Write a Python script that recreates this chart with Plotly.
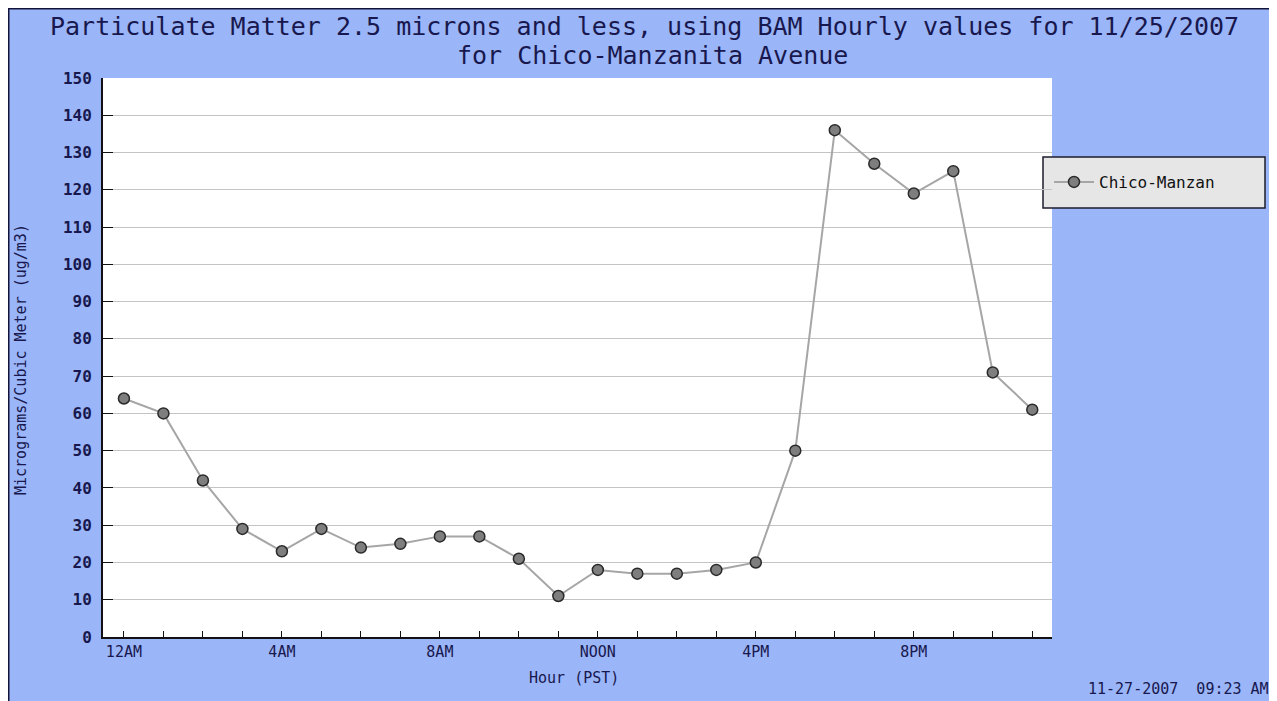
import plotly.graph_objects as go

# ---- data ----
hours = list(range(24))
pm25 = [64, 60, 42, 29, 23, 29, 24, 25, 27, 27, 21, 11, 18, 17, 17, 18, 20, 50, 136, 127, 119, 125, 71, 61]
x_tick_vals = list(range(24))
x_tick_text = ["12AM", "", "", "", "4AM", "", "", "", "8AM", "", "", "", "NOON",
               "", "", "", "4PM", "", "", "", "8PM", "", "", ""]
y_tick_vals = list(range(0, 151, 10))
series_name = "Chico-Manzan"
title_line1 = "Particulate Matter 2.5 microns and less, using BAM Hourly values for 11/25/2007"
title_line2 = "for Chico-Manzanita Avenue"
y_title = "Micrograms/Cubic Meter (ug/m3)"
x_title = "Hour (PST)"
stamp = "11-27-2007  09:23 AM"

OFF = 8                      # page body margin
W, H = 1265, 693             # figure size
PL, PR, PT, PB = 103, 1052, 78, 637   # plot area in page pixels
FONT = "DejaVu Sans Mono"
NAVY = "#18184e"
BLUE = "#9ab5f8"

def px(xp):
    return (xp - PL) / (PR - PL)

def py(yp):
    return (PB - yp) / (PB - PT)

fig = go.Figure()
fig.add_trace(go.Scatter(
    x=hours, y=pm25, mode="lines+markers", name=series_name,
    line=dict(color="#a6a6a6", width=2),
    marker=dict(size=11, color="#7e7e7e", line=dict(color="#2a2a2a", width=1.5)),
))

fig.update_layout(
    width=W, height=H,
    margin=dict(l=PL - OFF, r=W - (PR - OFF), t=PT - OFF, b=H - (PB - OFF), autoexpand=False),
    paper_bgcolor=BLUE, plot_bgcolor="white",
    font=dict(family=FONT, color=NAVY),
    showlegend=True,
    legend=dict(
        x=px(1049), y=py(182), xanchor="left", yanchor="middle",
        bgcolor="rgba(0,0,0,0)", borderwidth=0, itemwidth=40,
        font=dict(family=FONT, size=16, color="#111111"),
    ),
    xaxis=dict(
        range=[-0.53, 23.5], tickmode="array", tickvals=x_tick_vals, ticktext=x_tick_text,
        ticks="inside", ticklen=6, tickcolor="#111111", tickwidth=1,
        showline=True, linecolor="#111111", linewidth=2, showgrid=False, zeroline=False,
        tickfont=dict(family=FONT, size=15, color=NAVY),
    ),
    yaxis=dict(
        range=[0, 150], tickmode="array", tickvals=y_tick_vals,
        ticks="inside", ticklen=10, tickcolor="#111111", tickwidth=1,
        showline=True, linecolor="#111111", linewidth=2, ticklabelstandoff=6,
        showgrid=True, gridcolor="#c4c4c4", gridwidth=1, zeroline=False,
        tickfont=dict(family=FONT, size=16, color=NAVY, weight="bold"),
    ),
)

annots = [
    dict(text=title_line1, x=px(644), y=py(26), font=dict(size=25, color=NAVY, family=FONT)),
    dict(text=title_line2, x=px(652), y=py(56), font=dict(size=25, color=NAVY, family=FONT)),
    dict(text=x_title, x=px(574), y=py(678), font=dict(size=15, color=NAVY, family=FONT)),
    dict(text=y_title, x=px(21), y=py(360), textangle=-90, font=dict(size=15, color=NAVY, family=FONT)),
    dict(text=stamp, x=px(1271), y=py(689), xanchor="right", font=dict(size=15, color=NAVY, family=FONT)),
]
for a in annots:
    a.setdefault("xanchor", "center")
    fig.add_annotation(xref="paper", yref="paper", yanchor="middle", showarrow=False, **a)

shapes = [
    # legend box
    dict(type="rect", x0=px(1043), x1=px(1265), y0=py(157), y1=py(208),
         fillcolor="#e6e6e6", line=dict(color="#1c1c2c", width=1.5), layer="below"),
    # outer frame lines
    dict(type="line", x0=px(8.5), x1=px(8.5), y0=py(8), y1=py(701), line=dict(color="#14143a", width=2), layer="above"),
    dict(type="line", x0=px(8), x1=px(1277), y0=py(8.5), y1=py(8.5), line=dict(color="#14143a", width=2), layer="above"),
    dict(type="line", x0=px(1271.5), x1=px(1271.5), y0=py(8), y1=py(701), line=dict(color="#c4d4fb", width=1), layer="above"),
]
for s in shapes:
    fig.add_shape(xref="paper", yref="paper", **s)

fig.write_html("out.html")
